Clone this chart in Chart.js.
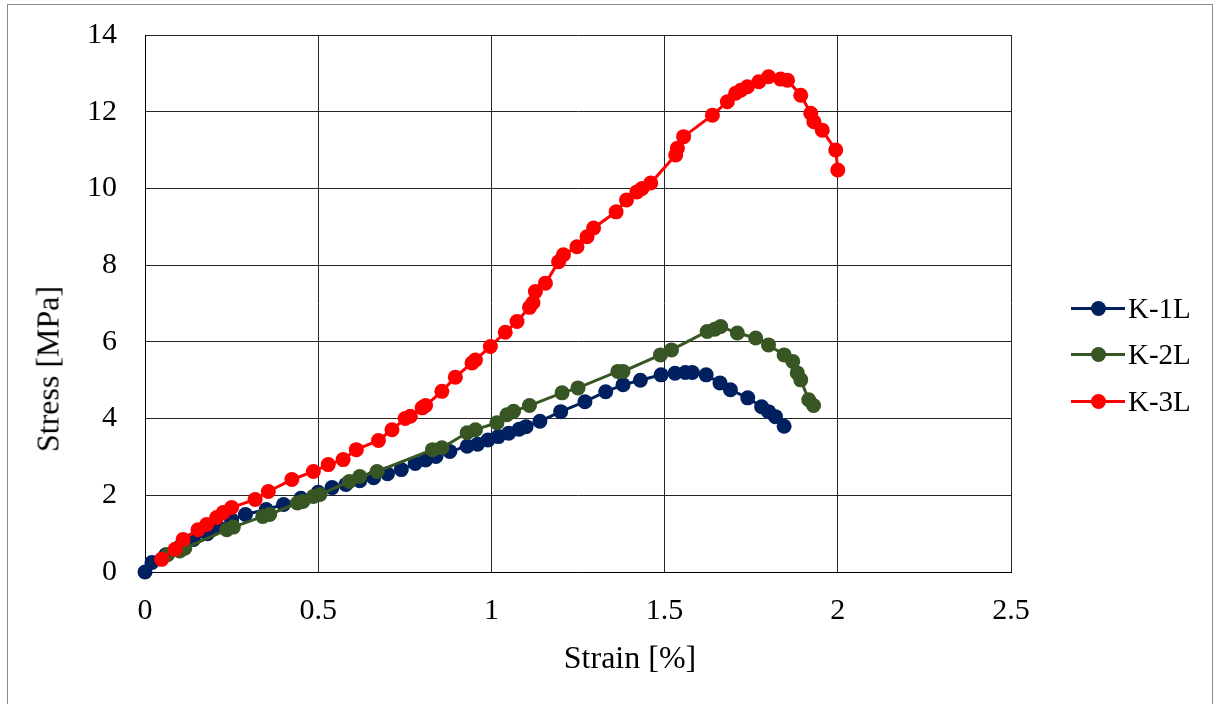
<!DOCTYPE html>
<html>
<head>
<meta charset="utf-8">
<script src="https://cdn.jsdelivr.net/npm/chart.js@4"></script>
<style>
    body { margin: 0; width: 1216px; height: 704px; overflow: hidden; background: #fff; font-family: "Liberation Serif", serif; }
    #frame { position: absolute; left: 7px; top: 4px; width: 1204px; height: 760px; border: 1px solid #8c8c8c; }
    #chart { position: absolute; left: 0; top: 0; }
    .axis-title { position: absolute; font-size: 32px; color: #000; white-space: nowrap; }
    #xTitle { left: 630px; top: 657px; transform: translate(-50%, -50%); }
    #yTitle { left: 48px; top: 369px; transform: translate(-50%, -50%) rotate(-90deg); }
    .legend-item { position: absolute; left: 1071px; height: 30px; display: flex; align-items: center; font-size: 29px; }
    .legend-icon { position: relative; width: 54px; height: 15px; margin-right: 3px; }
    .legend-icon .line { position: absolute; left: 0; right: 0; top: 6px; height: 3px; }
    .legend-icon .dot { position: absolute; left: 19.5px; top: 0; width: 15px; height: 15px; border-radius: 50%; }
</style>
</head>
<body>
<div id="frame"></div>
<canvas id="chart" width="1216" height="704"></canvas>
<div class="axis-title" id="xTitle">Strain [%]</div>
<div class="axis-title" id="yTitle">Stress [MPa]</div>
<div id="legend"></div>
<script>
const seriesNames = ['K-1L', 'K-2L', 'K-3L'];
const seriesColors = ['#002060', '#375623', '#ff0000'];

const xTicks = [0, 0.5, 1, 1.5, 2, 2.5];
const yTicks = [0, 2, 4, 6, 8, 10, 12, 14];

const k1Strain = [0, 0.02, 0.06, 0.1, 0.14, 0.18, 0.21, 0.25, 0.29, 0.35, 0.4, 0.45, 0.5, 0.54, 0.58, 0.62,
    0.66, 0.7, 0.74, 0.78, 0.81, 0.84, 0.88, 0.93, 0.96, 0.99, 1.02, 1.05, 1.08, 1.1, 1.14, 1.2, 1.27,
    1.33, 1.38, 1.43, 1.49, 1.53, 1.56, 1.58, 1.62, 1.66, 1.69, 1.74, 1.78, 1.8, 1.82, 1.845];
const k1Stress = [0, 0.25, 0.45, 0.65, 0.85, 1.0, 1.18, 1.36, 1.5, 1.63, 1.76, 1.92, 2.08, 2.2, 2.28, 2.38,
    2.46, 2.56, 2.67, 2.83, 2.92, 3.01, 3.14, 3.28, 3.33, 3.44, 3.53, 3.62, 3.72, 3.79, 3.93, 4.18, 4.44,
    4.7, 4.88, 5.0, 5.14, 5.18, 5.2, 5.2, 5.14, 4.93, 4.75, 4.54, 4.31, 4.18, 4.05, 3.8];

const k2Strain = [0.065, 0.1, 0.115, 0.236, 0.255, 0.34, 0.36, 0.44, 0.456, 0.486, 0.505, 0.59, 0.62, 0.67,
    0.83, 0.857, 0.93, 0.954, 1.016, 1.045, 1.064, 1.11, 1.204, 1.25, 1.365, 1.38, 1.488, 1.52, 1.623,
    1.645, 1.662, 1.71, 1.763, 1.8, 1.845, 1.87, 1.883, 1.893, 1.916, 1.93];
const k2Stress = [0.45, 0.55, 0.62, 1.1, 1.17, 1.45, 1.5, 1.8, 1.84, 1.97, 2.02, 2.36, 2.49, 2.62,
    3.19, 3.24, 3.63, 3.71, 3.89, 4.1, 4.19, 4.34, 4.67, 4.8, 5.23, 5.23, 5.66, 5.79, 6.27,
    6.33, 6.4, 6.23, 6.1, 5.92, 5.66, 5.49, 5.19, 5.01, 4.49, 4.34];

const k3Strain = [0.048, 0.087, 0.11, 0.153, 0.178, 0.207, 0.226, 0.25, 0.318, 0.356, 0.424, 0.486, 0.529,
    0.572, 0.61, 0.674, 0.713, 0.751, 0.766, 0.8, 0.81, 0.857, 0.896, 0.944, 0.954, 0.997, 1.04, 1.074,
    1.11, 1.12, 1.127, 1.156, 1.194, 1.208, 1.247, 1.276, 1.295, 1.36, 1.39, 1.42, 1.435, 1.46, 1.532,
    1.537, 1.555, 1.638, 1.681, 1.705, 1.72, 1.739, 1.772, 1.8, 1.835, 1.855, 1.893, 1.922, 1.931, 1.955,
    1.994, 2.0];
const k3Stress = [0.33, 0.59, 0.85, 1.1, 1.24, 1.42, 1.55, 1.68, 1.89, 2.1, 2.41, 2.62, 2.8,
    2.93, 3.19, 3.43, 3.71, 4.0, 4.06, 4.28, 4.34, 4.71, 5.08, 5.45, 5.53, 5.88, 6.25, 6.53,
    6.9, 7.02, 7.31, 7.53, 8.09, 8.27, 8.48, 8.74, 8.97, 9.39, 9.7, 9.91, 10.0, 10.14, 10.87,
    11.05, 11.35, 11.91, 12.26, 12.48, 12.56, 12.65, 12.78, 12.91, 12.85, 12.82, 12.43, 11.96, 11.74, 11.52,
    11.0, 10.48];

const strains = [k1Strain, k2Strain, k3Strain];
const stresses = [k1Stress, k2Stress, k3Stress];

function toPoints(xs, ys) {
    return xs.map((x, i) => ({ x: x, y: ys[i] }));
}

const datasets = seriesNames.map((name, i) => ({
    label: name,
    data: toPoints(strains[i], stresses[i]),
    showLine: true,
    clip: false,
    borderColor: seriesColors[i],
    backgroundColor: seriesColors[i],
    borderWidth: 3,
    tension: 0,
    pointRadius: 7.5,
    pointBorderWidth: 0,
    pointBackgroundColor: seriesColors[i],
    order: seriesNames.length - i
}));

const gridColor = '#262626';
const tickFont = { family: 'Liberation Serif', size: 30 };

new Chart(document.getElementById('chart'), {
    type: 'scatter',
    data: { datasets: datasets },
    options: {
        responsive: false,
        animation: false,
        layout: { padding: { top: 35, right: 205, bottom: 0, left: 0 } },
        plugins: {
            legend: { display: false },
            tooltip: { enabled: false }
        },
        scales: {
            x: {
                type: 'linear',
                min: 0,
                max: 2.5,
                afterBuildTicks: axis => { axis.ticks = xTicks.map(v => ({ value: v })); },
                afterFit: axis => { axis.height = 132; axis.paddingLeft = 0; axis.paddingRight = 0; },
                ticks: { color: '#000', font: tickFont, padding: 21, maxRotation: 0, callback: v => String(v) },
                grid: { color: gridColor, lineWidth: 1, drawTicks: false },
                border: { color: '#000', width: 1 }
            },
            y: {
                min: 0,
                max: 14,
                afterBuildTicks: axis => { axis.ticks = yTicks.map(v => ({ value: v })); },
                afterFit: axis => { axis.width = 145; axis.paddingTop = 0; axis.paddingBottom = 0; },
                ticks: { color: '#000', font: tickFont, padding: 28, callback: v => String(v) },
                grid: { color: gridColor, lineWidth: 1, drawTicks: false },
                border: { color: '#000', width: 1 }
            }
        }
    }
});

// legend, built from the same series names and colours
const legendTops = [293, 339, 386];
const legend = document.getElementById('legend');
seriesNames.forEach((name, i) => {
    const item = document.createElement('div');
    item.className = 'legend-item';
    item.style.top = legendTops[i] + 'px';
    item.innerHTML = `
        <div class="legend-icon">
            <div class="line" style="background:${seriesColors[i]}"></div>
            <div class="dot" style="background:${seriesColors[i]}"></div>
        </div>
        <span>${name}</span>`;
    legend.appendChild(item);
});
</script>
</body>
</html>
